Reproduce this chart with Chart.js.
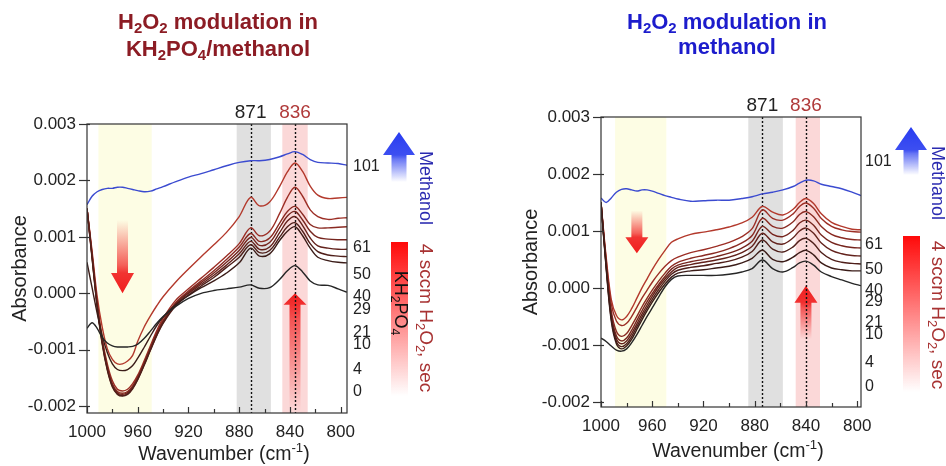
<!DOCTYPE html>
<html>
<head>
<meta charset="utf-8">
<script src="https://cdn.jsdelivr.net/npm/chart.js@4.4.1/dist/chart.umd.min.js"></script>
<style>
  body { margin: 0; background: #fff; width: 946px; height: 466px; overflow: hidden; position: relative; }
  .panel { position: absolute; top: 0; width: 473px; height: 466px; }
</style>
</head>
<body>
<div class="panel" style="left:0"><canvas id="left"></canvas></div>
<div class="panel" style="left:473px"><canvas id="right"></canvas></div>
<script>
// wavenumber grids (cm-1)
const wnLeft  = [1000, 996, 992, 988, 984, 980, 976, 972, 968, 964, 960, 955, 950, 945, 940, 930, 920, 910, 900, 890, 880, 871, 864, 856, 848, 842, 836, 830, 824, 818, 810, 802, 795];
const wnRight = [1000, 996, 992, 988, 984, 980, 976, 972, 968, 964, 960, 955, 950, 945, 940, 930, 920, 910, 900, 890, 882, 874, 866, 858, 850, 845, 840, 834, 828, 820, 812, 804, 797];

// time labels (s) and line colours
const timeLabels = ['0', '4', '10', '21', '29', '40', '50', '61', '101'];
const lineColors = ['#262626', '#3b1c18', '#4f1f1a', '#63221c', '#76251e', '#8a2a22', '#9c2e25', '#b3392c', '#3b4bd0'];

// KH2PO4/methanol panel, absorbance x 1e-3
const left0   = [-0.62, -0.52, -0.62, -0.78, -0.88, -0.93, -0.95, -0.95, -0.95, -0.94, -0.90, -0.80, -0.67, -0.53, -0.41, -0.23, -0.09, 0.00, 0.05, 0.08, 0.11, 0.15, 0.09, 0.10, 0.25, 0.40, 0.49, 0.38, 0.22, 0.15, 0.14, 0.08, 0.02];
const left4   = [0.55, 0.10, -0.35, -0.75, -1.05, -1.25, -1.35, -1.37, -1.35, -1.28, -1.15, -0.96, -0.76, -0.57, -0.42, -0.20, -0.04, 0.10, 0.22, 0.36, 0.54, 0.80, 0.66, 0.70, 0.94, 1.10, 1.18, 1.02, 0.80, 0.64, 0.58, 0.55, 0.54];
const left10  = [1.50, 0.62, -0.24, -0.90, -1.36, -1.66, -1.79, -1.82, -1.79, -1.69, -1.53, -1.28, -1.01, -0.75, -0.53, -0.22, -0.03, 0.13, 0.28, 0.46, 0.64, 0.86, 0.72, 0.76, 1.00, 1.18, 1.25, 1.10, 0.88, 0.74, 0.68, 0.66, 0.65];
const left21  = [1.50, 0.64, -0.22, -0.88, -1.34, -1.64, -1.78, -1.81, -1.78, -1.68, -1.52, -1.27, -1.00, -0.74, -0.52, -0.20, 0.00, 0.16, 0.32, 0.50, 0.70, 0.92, 0.78, 0.82, 1.08, 1.28, 1.36, 1.20, 0.98, 0.84, 0.80, 0.78, 0.78];
const left29  = [1.50, 0.66, -0.20, -0.86, -1.32, -1.62, -1.76, -1.79, -1.76, -1.66, -1.50, -1.25, -0.98, -0.72, -0.50, -0.18, 0.02, 0.19, 0.36, 0.55, 0.76, 0.99, 0.85, 0.90, 1.17, 1.37, 1.45, 1.30, 1.10, 0.99, 0.96, 0.95, 0.95];
const left40  = [1.50, 0.68, -0.18, -0.84, -1.30, -1.60, -1.74, -1.77, -1.74, -1.64, -1.48, -1.23, -0.96, -0.70, -0.48, -0.16, 0.04, 0.22, 0.40, 0.60, 0.82, 1.06, 0.92, 0.98, 1.25, 1.45, 1.54, 1.40, 1.22, 1.16, 1.16, 1.17, 1.18];
const left50  = [1.50, 0.70, -0.15, -0.80, -1.25, -1.55, -1.70, -1.73, -1.70, -1.60, -1.45, -1.20, -0.93, -0.66, -0.44, -0.12, 0.08, 0.27, 0.46, 0.66, 0.88, 1.16, 1.02, 1.10, 1.42, 1.70, 1.88, 1.72, 1.48, 1.36, 1.31, 1.33, 1.34];
const left61  = [1.50, 0.75, -0.05, -0.60, -0.98, -1.17, -1.25, -1.25, -1.20, -1.10, -0.85, -0.60, -0.40, -0.22, -0.06, 0.20, 0.43, 0.65, 0.86, 1.08, 1.36, 1.70, 1.55, 1.62, 1.90, 2.15, 2.31, 2.16, 1.90, 1.74, 1.68, 1.69, 1.70];
const left101 = [1.57, 1.72, 1.80, 1.84, 1.86, 1.86, 1.88, 1.88, 1.86, 1.84, 1.82, 1.80, 1.81, 1.85, 1.89, 1.98, 2.06, 2.12, 2.19, 2.26, 2.32, 2.35, 2.35, 2.37, 2.42, 2.47, 2.51, 2.46, 2.37, 2.32, 2.31, 2.30, 2.27];

// methanol panel, absorbance x 1e-3
const right0   = [-0.88, -0.94, -1.02, -1.09, -1.11, -1.07, -0.96, -0.82, -0.66, -0.50, -0.35, -0.16, 0.02, 0.15, 0.21, 0.22, 0.22, 0.22, 0.24, 0.28, 0.34, 0.49, 0.34, 0.28, 0.36, 0.44, 0.47, 0.40, 0.28, 0.20, 0.14, 0.08, 0.04];
const right4   = [1.50, 0.35, -0.58, -0.98, -1.07, -1.02, -0.90, -0.73, -0.56, -0.40, -0.25, -0.08, 0.07, 0.19, 0.26, 0.30, 0.32, 0.35, 0.38, 0.44, 0.52, 0.66, 0.50, 0.46, 0.54, 0.62, 0.66, 0.58, 0.44, 0.35, 0.32, 0.30, 0.30];
const right10  = [1.50, 0.38, -0.54, -0.94, -1.03, -0.98, -0.85, -0.68, -0.51, -0.35, -0.20, -0.03, 0.12, 0.24, 0.31, 0.36, 0.39, 0.43, 0.47, 0.54, 0.64, 0.84, 0.68, 0.63, 0.72, 0.83, 0.87, 0.78, 0.62, 0.50, 0.45, 0.43, 0.42];
const right21  = [1.50, 0.40, -0.50, -0.89, -0.98, -0.93, -0.80, -0.63, -0.46, -0.30, -0.15, 0.02, 0.16, 0.28, 0.36, 0.41, 0.45, 0.49, 0.54, 0.62, 0.73, 0.96, 0.81, 0.77, 0.88, 1.00, 1.05, 0.96, 0.79, 0.66, 0.60, 0.57, 0.56];
const right29  = [1.50, 0.42, -0.46, -0.84, -0.93, -0.88, -0.74, -0.57, -0.40, -0.24, -0.10, 0.06, 0.20, 0.33, 0.40, 0.46, 0.50, 0.55, 0.61, 0.70, 0.82, 1.08, 0.94, 0.90, 1.01, 1.14, 1.19, 1.10, 0.93, 0.80, 0.74, 0.71, 0.70];
const right40  = [1.50, 0.45, -0.40, -0.76, -0.85, -0.80, -0.66, -0.50, -0.33, -0.18, -0.04, 0.12, 0.26, 0.38, 0.45, 0.52, 0.57, 0.62, 0.69, 0.79, 0.92, 1.22, 1.08, 1.05, 1.16, 1.29, 1.34, 1.25, 1.08, 0.94, 0.88, 0.85, 0.84];
const right50  = [1.50, 0.50, -0.28, -0.58, -0.66, -0.62, -0.50, -0.34, -0.18, -0.04, 0.10, 0.25, 0.38, 0.48, 0.54, 0.62, 0.67, 0.73, 0.80, 0.90, 1.04, 1.37, 1.22, 1.19, 1.30, 1.43, 1.49, 1.40, 1.22, 1.08, 1.02, 0.99, 0.98];
const right61  = [1.50, 0.55, -0.20, -0.48, -0.56, -0.50, -0.36, -0.18, 0.00, 0.16, 0.32, 0.50, 0.66, 0.80, 0.86, 0.94, 0.98, 1.02, 1.07, 1.14, 1.24, 1.43, 1.33, 1.28, 1.38, 1.50, 1.57, 1.48, 1.30, 1.15, 1.08, 1.03, 1.02];
const right101 = [1.58, 1.50, 1.58, 1.68, 1.73, 1.74, 1.72, 1.70, 1.72, 1.72, 1.70, 1.66, 1.62, 1.59, 1.56, 1.52, 1.53, 1.54, 1.54, 1.57, 1.60, 1.65, 1.68, 1.72, 1.78, 1.84, 1.89, 1.88, 1.82, 1.78, 1.74, 1.68, 1.62];

// axis ticks
const xTickVals = [1000, 980, 960, 940, 920, 900, 880, 860, 840, 820, 800];
const yTickVals = [-2, -1, 0, 1, 2, 3];

const FONT = "'Liberation Sans', Arial, sans-serif";

function richParts(str) {
  const parts = [];
  let i = 0, buf = '';
  while (i < str.length) {
    const c = str[i];
    if (c === '_' || c === '^') {
      if (buf) { parts.push({ t: buf, k: 0 }); buf = ''; }
      const n = c === '_' ? 1 : 2;
      parts.push({ t: str.substr(i + 1, n), k: c === '_' ? 1 : -1 });
      i += n + 1;
    } else { buf += c; i++; }
  }
  if (buf) parts.push({ t: buf, k: 0 });
  return parts;
}

function drawRich(ctx, str, x, y, o) {
  const size = o.size;
  const w = o.bold ? 'bold ' : '';
  const parts = richParts(str);
  let total = 0;
  parts.forEach(p => {
    p.size = p.k ? size * 0.68 : size;
    ctx.font = w + p.size + 'px ' + FONT;
    p.w = ctx.measureText(p.t).width;
    total += p.w;
  });
  ctx.save();
  ctx.translate(x, y);
  if (o.rotate) ctx.rotate(o.rotate);
  ctx.fillStyle = o.color;
  ctx.textBaseline = 'middle';
  ctx.textAlign = 'left';
  let cx = o.align === 'left' ? 0 : -total / 2;
  parts.forEach(p => {
    ctx.font = w + p.size + 'px ' + FONT;
    const dy = p.k === 1 ? size * 0.28 : (p.k === -1 ? -size * 0.32 : 0);
    ctx.fillText(p.t, cx, dy);
    cx += p.w;
  });
  ctx.restore();
}

function drawArrow(ctx, cx, tipY, headY, tailY, headHalf, shaftHalf, rgb) {
  const g = ctx.createLinearGradient(0, tailY, 0, tipY);
  const f = (headY - tailY) / (tipY - tailY);
  g.addColorStop(0, 'rgba(' + rgb + ',0)');
  g.addColorStop(f * 0.85, 'rgba(' + rgb + ',0.7)');
  g.addColorStop(f, 'rgba(' + rgb + ',0.9)');
  g.addColorStop(1, 'rgba(' + rgb + ',1)');
  ctx.beginPath();
  ctx.moveTo(cx - shaftHalf, tailY);
  ctx.lineTo(cx + shaftHalf, tailY);
  ctx.lineTo(cx + shaftHalf, headY);
  ctx.lineTo(cx + headHalf, headY);
  ctx.lineTo(cx, tipY);
  ctx.lineTo(cx - headHalf, headY);
  ctx.lineTo(cx - shaftHalf, headY);
  ctx.closePath();
  ctx.fillStyle = g;
  ctx.fill();
}

function makeDecor(cfg) {
  return {
    id: 'decor',
    beforeDatasetsDraw(chart) {
      const { ctx, chartArea: a, scales: { x, y } } = chart;
      ctx.save();
      ctx.beginPath(); ctx.rect(a.left, a.top, a.width, a.height); ctx.clip();
      cfg.bands.forEach(b => {
        const x0 = x.getPixelForValue(b.from), x1 = x.getPixelForValue(b.to);
        ctx.fillStyle = b.color;
        ctx.fillRect(Math.min(x0, x1), a.top, Math.abs(x1 - x0), a.height);
      });
      cfg.arrows.forEach(r => {
        drawArrow(ctx, x.getPixelForValue(r.wn), y.getPixelForValue(r.tip), y.getPixelForValue(r.head),
          y.getPixelForValue(r.tail), 11.5, 5.5, '240,30,30');
      });
      ctx.setLineDash([2, 2]);
      ctx.strokeStyle = '#111';
      ctx.lineWidth = 1.4;
      cfg.peaks.forEach(p => {
        const px = Math.round(x.getPixelForValue(p)) + 0.5;
        ctx.beginPath(); ctx.moveTo(px, a.top); ctx.lineTo(px, a.bottom); ctx.stroke();
      });
      ctx.restore();
    },
    afterDraw(chart) {
      const { ctx, chartArea: a, scales: { x, y } } = chart;
      ctx.save();
      // frame + ticks
      ctx.strokeStyle = '#333';
      ctx.lineWidth = 1.2;
      ctx.strokeRect(a.left, a.top, a.width, a.height);
      xTickVals.forEach(v => {
        const px = Math.round(x.getPixelForValue(v)) + 0.5;
        const len = v % 40 === 0 ? 6 : 4;
        ctx.beginPath(); ctx.moveTo(px, a.bottom); ctx.lineTo(px, a.bottom - len); ctx.stroke();
      });
      yTickVals.forEach(v => {
        const py = Math.round(y.getPixelForValue(v)) + 0.5;
        ctx.beginPath(); ctx.moveTo(a.left - 8, py); ctx.lineTo(a.left + 3, py); ctx.stroke();
      });
      // title
      const cx = (a.left + a.right) / 2;
      cfg.title.forEach((t, i) => {
        drawRich(ctx, t, cx + cfg.titleDx, cfg.titleY[i], { size: 22, bold: true, color: cfg.titleColor });
      });
      // x axis title
      drawRich(ctx, 'Wavenumber (cm^-1)', cx + 7, cfg.xTitleY, { size: 19.5, color: '#222' });
      // peak labels
      cfg.peaks.forEach((p, i) => {
        drawRich(ctx, cfg.peakLabels[i], x.getPixelForValue(p), a.top - 11, { size: 19, color: cfg.peakColors[i] });
      });
      // right side: time labels
      ctx.font = '16px ' + FONT;
      ctx.fillStyle = '#222';
      ctx.textAlign = 'left';
      ctx.textBaseline = 'middle';
      const sideLabels = ['101', '61', '50', '40', '29', '21', '10', '4', '0'];
      sideLabels.forEach((t, i) => ctx.fillText(t, a.right + cfg.sideDx, cfg.sideY[i]));
      // blue methanol arrow
      const b = cfg.blue;
      drawArrow(ctx, a.right + b.dx, b.tip, b.head, b.tail, 16, 7.5, '40,60,240');
      // red gradient bar
      const r = cfg.bar;
      const g = ctx.createLinearGradient(0, r.top, 0, r.bottom);
      g.addColorStop(0, 'rgba(255,10,10,1)');
      g.addColorStop(1, 'rgba(255,10,10,0)');
      ctx.fillStyle = g;
      ctx.fillRect(a.right + r.dx0, r.top, r.dx1 - r.dx0, r.bottom - r.top);
      if (cfg.barText) {
        drawRich(ctx, cfg.barText, a.right + (r.dx0 + r.dx1) / 2, cfg.barTextY, { size: 18, color: '#111', rotate: Math.PI / 2 });
      }
      drawRich(ctx, 'Methanol', a.right + cfg.legDx, cfg.methY, { size: 18, color: '#2b2bb0', rotate: Math.PI / 2 });
      drawRich(ctx, '4 sccm H_2O_2, sec', a.right + cfg.legDx, cfg.h2o2Y, { size: 19, color: '#a83232', rotate: Math.PI / 2 });
      ctx.restore();
    }
  };
}

function makePanel(id, wn, series, xmin, ymin, pad, xAxisH, yTitlePad, cfg) {
  const datasets = series.map((s, i) => ({
    label: timeLabels[i],
    data: wn.map((w, j) => ({ x: w, y: s[j] })),
    borderColor: lineColors[i],
    borderWidth: 1.4,
    pointRadius: 0,
    tension: 0.35,
    fill: false
  }));
  return new Chart(document.getElementById(id), {
    type: 'line',
    data: { datasets },
    options: {
      responsive: true,
      maintainAspectRatio: false,
      animation: false,
      layout: { padding: pad },
      plugins: { legend: { display: false }, tooltip: { enabled: false } },
      scales: {
        x: {
          type: 'linear', reverse: true, min: xmin, max: 1000,
          grid: { display: false, drawTicks: false },
          border: { display: false },
          afterBuildTicks: s => { s.ticks = xTickVals.map(v => ({ value: v })); },
          afterFit: s => { s.height = xAxisH; },
          ticks: {
            autoSkip: false, maxRotation: 0, padding: 9, color: '#222',
            font: { family: FONT, size: 17 },
            callback: v => (v % 40 === 0 ? String(v) : '')
          }
        },
        y: {
          min: ymin, max: 3,
          grid: { display: false, drawTicks: false },
          border: { display: false },
          afterBuildTicks: s => { s.ticks = yTickVals.map(v => ({ value: v })); },
          afterFit: s => { s.width = 87; },
          ticks: {
            padding: 11, color: '#222',
            font: { family: FONT, size: 17 },
            callback: v => (v / 1000).toFixed(3)
          },
          title: {
            display: true, text: 'Absorbance', color: '#222',
            font: { family: FONT, size: 20 },
            padding: { top: yTitlePad, bottom: 0 }
          }
        }
      }
    },
    plugins: [makeDecor(cfg)]
  });
}

makePanel('left', wnLeft,
  [left0, left4, left10, left21, left29, left40, left50, left61, left101],
  795, -2.12, { left: 0, top: 124, right: 126, bottom: 0 }, 53, 8.5, {
    bands: [
      { from: 991, to: 949, color: '#fdfde4' },
      { from: 882, to: 855, color: '#e0e0e0' },
      { from: 846, to: 826, color: '#fbd8d8' }
    ],
    arrows: [
      { wn: 972, tail: 1.3, head: 0.36, tip: 0.0 },
      { wn: 836, tail: -2.1, head: -0.2, tip: 0.0 }
    ],
    peaks: [871, 836],
    peakLabels: ['871', '836'],
    peakColors: ['#222', '#b03a3a'],
    title: ['H_2O_2 modulation in', 'KH_2PO_4/methanol'],
    titleY: [23, 50],
    titleDx: 1,
    titleColor: '#8c1c24',
    xTitleY: 455,
    sideDx: 6,
    sideY: [167, 248, 275, 297, 310, 333, 345, 370, 392],
    blue: { dx: 52, tip: 132, head: 155, tail: 182 },
    bar: { dx0: 44, dx1: 61, top: 242, bottom: 396 },
    barText: 'KH_2PO_4',
    barTextY: 303,
    legDx: 78,
    methY: 188,
    h2o2Y: 318
  });

makePanel('right', wnRight,
  [right0, right4, right10, right21, right29, right40, right50, right61, right101],
  797, -2.09, { left: 41, top: 117, right: 85, bottom: 0 }, 59, 5.5, {
    bands: [
      { from: 989, to: 949, color: '#fdfde4' },
      { from: 885, to: 858, color: '#e0e0e0' },
      { from: 848, to: 829, color: '#fbd8d8' }
    ],
    arrows: [
      { wn: 972, tail: 1.36, head: 0.89, tip: 0.61 },
      { wn: 840, tail: -0.9, head: -0.26, tip: 0.04 }
    ],
    peaks: [874, 840],
    peakLabels: ['871', '836'],
    peakColors: ['#222', '#b03a3a'],
    title: ['H_2O_2 modulation in', 'methanol'],
    titleY: [23, 48],
    titleDx: -4,
    titleColor: '#1c1ccc',
    xTitleY: 452,
    sideDx: 4,
    sideY: [162, 245, 270, 291, 302, 323, 335, 363, 387],
    blue: { dx: 50, tip: 127, head: 150, tail: 175 },
    bar: { dx0: 42, dx1: 59, top: 236, bottom: 392 },
    barText: null,
    legDx: 76,
    methY: 183,
    h2o2Y: 315
  });
</script>
</body>
</html>
